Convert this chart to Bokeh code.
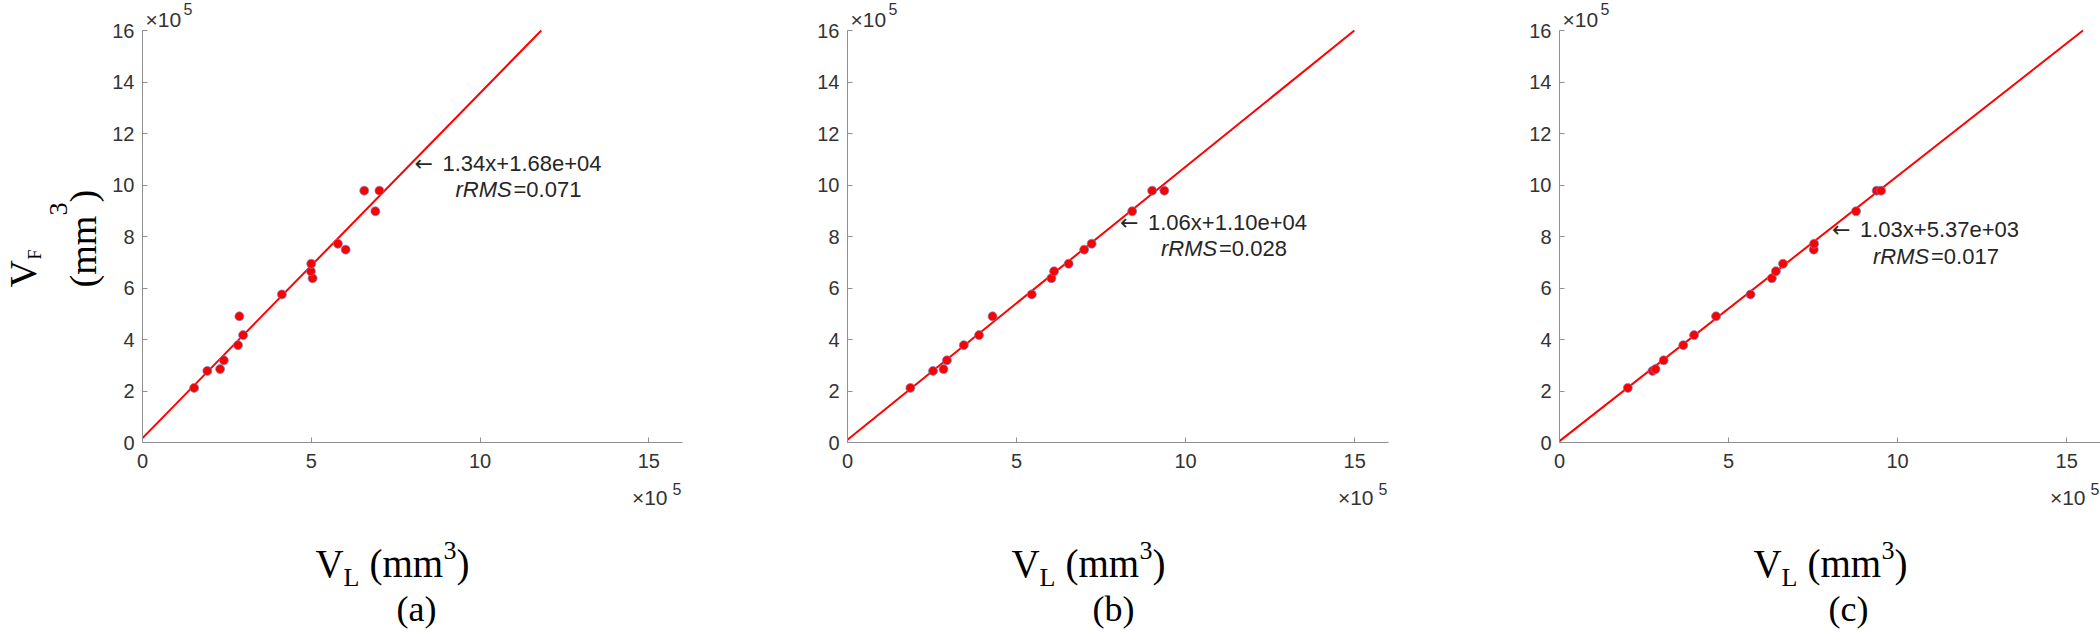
import math
from bokeh.plotting import figure
from bokeh.models import Range1d, FixedTicker, Label
from bokeh.layouts import row
from bokeh.embed import file_html
from bokeh.resources import INLINE

# ---------------- data (volumes in units of 10^5 mm^3) ----------------
panel_tags = ["(a)", "(b)", "(c)"]
vf = [2.12, 2.78, 2.85, 3.19, 3.78, 4.17, 4.90, 5.75, 6.38, 6.65, 6.94, 7.49, 7.72, 8.98, 9.78, 9.78]
vl_a = [1.53, 1.92, 2.30, 2.41, 2.83, 2.98, 2.87, 4.13, 5.04, 4.99, 5.00, 6.02, 5.79, 6.90, 6.57, 7.02]
vl_b = [1.86, 2.53, 2.84, 2.94, 3.44, 3.89, 4.29, 5.45, 6.03, 6.11, 6.54, 7.00, 7.22, 8.42, 9.01, 9.37]
vl_c = [2.02, 2.75, 2.84, 3.08, 3.66, 3.98, 4.63, 5.65, 6.28, 6.40, 6.61, 7.52, 7.53, 8.77, 9.38, 9.51]
slopes = [1.34, 1.06, 1.03]
intercepts_mm3 = [1.68e4, 1.10e4, 5.37e3]
rrms = [0.071, 0.028, 0.017]
x_ticks = [0, 5, 10, 15]
y_ticks = [0, 2, 4, 6, 8, 10, 12, 14, 16]
axis_max = 16
annot_x = 8  # x (10^5 mm^3) where the fit annotation is attached

# ---------------- layout (page pixel positions) ----------------
FRAME_TOP = 30
FRAME_BOTTOM = 442
FIG_TOP = 0
FIG_BOTTOM = 631
layout = [
    dict(fig_left=0, fig_right=700, frame_left=142, frame_w=540, xl=315, cap=416),
    dict(fig_left=700, fig_right=1400, frame_left=847, frame_w=541, xl=1011, cap=1113),
    dict(fig_left=1400, fig_right=2100, frame_left=1559, frame_w=541, xl=1753, cap=1848),
]
SANS = "Liberation Sans"
SERIF = "Liberation Serif"
MID = {SANS: 0.3465, SERIF: 0.3375}   # baseline -> middle of the text box (em)
TXT = "#262626"
AX = "#8f8f8f"


def put(p, lay, px, py, s, size, font=SANS, color=TXT, align="left",
        rotated=False, style="normal"):
    """px/py: page position of the text's baseline start (or rotated baseline)."""
    shift = MID[font] * size
    if rotated:
        px = px - shift
    else:
        py = py - shift
    p.add_layout(Label(x=0, y=0, x_offset=px - lay["frame_left"],
                       y_offset=FRAME_BOTTOM - py, text=s, text_font=font,
                       text_font_size=f"{size}px", text_color=color,
                       text_align=align, text_baseline="middle",
                       angle=math.pi / 2 if rotated else 0.0,
                       text_font_style=style))


def make_panel(i, xs):
    lay = layout[i]
    m = slopes[i]
    b = intercepts_mm3[i] / 1e5
    fl = lay["frame_left"]
    fr = fl + lay["frame_w"]
    pxx = lay["frame_w"] / axis_max
    pxy = (FRAME_BOTTOM - FRAME_TOP) / axis_max
    xr = Range1d(-(fl - lay["fig_left"]) / pxx, axis_max + (lay["fig_right"] - fr) / pxx)
    yr = Range1d(-(FIG_BOTTOM - FRAME_BOTTOM) / pxy, axis_max + (FRAME_TOP - FIG_TOP) / pxy)
    p = figure(frame_width=lay["fig_right"] - lay["fig_left"],
               frame_height=FIG_BOTTOM - FIG_TOP,
               min_border=0, x_range=xr, y_range=yr,
               output_backend="svg", toolbar_location=None, tools="")
    p.outline_line_color = None
    p.grid.visible = False
    p.background_fill_color = "white"
    p.border_fill_color = "white"
    for ax in (p.xaxis[0], p.yaxis[0]):
        ax.fixed_location = 0
        ax.bounds = (0, axis_max)
        ax.axis_line_color = AX
        ax.axis_line_width = 1
        ax.major_tick_line_color = AX
        ax.major_tick_in = 5
        ax.major_tick_out = 0
        ax.minor_tick_line_color = None
        ax.major_label_text_font = SANS
        ax.major_label_text_font_size = "20px"
        ax.major_label_text_color = "#333333"
    p.xaxis.ticker = FixedTicker(ticks=x_ticks)
    p.yaxis.ticker = FixedTicker(ticks=y_ticks)
    p.xaxis.major_label_standoff = 11
    p.yaxis.major_label_standoff = 8

    # fit line from x=0 up to the top of the axes
    x_end = (axis_max - b) / m
    p.line([0, x_end], [b, axis_max], line_color="#ff0000", line_width=2)
    p.scatter(xs, vf, size=9, fill_color="#ff0000", line_color="#6f86c8",
              line_width=0.7)

    # annotation
    ya = m * annot_x + b
    for dx, s, st, dy, fnt in [(2, "\u2190", "normal", 0, "DejaVu Sans"),
                               (30, f"{m:.2f}x+{intercepts_mm3[i]:.2e}", "normal", 0, SANS),
                               (43, "rRMS", "italic", 26.5, SANS),
                               (101, f"={rrms[i]:.3f}", "normal", 26.5, SANS)]:
        p.add_layout(Label(x=annot_x, y=ya, x_offset=dx, y_offset=-1 - dy, text=s,
                           text_font=fnt, text_font_size="22px", text_color=TXT,
                           text_baseline="middle", text_font_style=st))

    # exponent markers
    put(p, lay, fl + 3, 26, "\u00d710", 21, color="#333333")
    put(p, lay, fl + 41, 14, "5", 16, color="#333333")
    put(p, lay, fr - 15, 504, "\u00d710", 21, color="#333333", align="right")
    put(p, lay, fr - 1, 494, "5", 16, color="#333333", align="right")

    # x label  V_L (mm^3)
    x0 = lay["xl"]
    put(p, lay, x0, 576, "V", 39, font=SERIF, color="black")
    put(p, lay, x0 + 28, 586, "L", 26, font=SERIF, color="black")
    put(p, lay, x0 + 54, 576, "(mm", 39, font=SERIF, color="black")
    put(p, lay, x0 + 128, 559, "3", 26, font=SERIF, color="black")
    put(p, lay, x0 + 141, 576, ")", 39, font=SERIF, color="black")
    # panel tag
    put(p, lay, lay["cap"], 621, panel_tags[i], 36, font=SERIF, color="black",
        align="center")

    if i == 0:
        put(p, lay, 35, 287, "V", 38, font=SERIF, color="black", rotated=True)
        put(p, lay, 41, 259, "F", 18, font=SERIF, color="black", rotated=True)
        put(p, lay, 95, 287, "(mm", 38, font=SERIF, color="black", rotated=True)
        put(p, lay, 67, 215, "3", 26, font=SERIF, color="black", rotated=True)
        put(p, lay, 95, 202, ")", 38, font=SERIF, color="black", rotated=True)
    return p


panels = [make_panel(i, xs) for i, xs in enumerate([vl_a, vl_b, vl_c])]
layout_row = row(*panels, spacing=0)
open("out.html", "w").write(file_html(layout_row, INLINE))
